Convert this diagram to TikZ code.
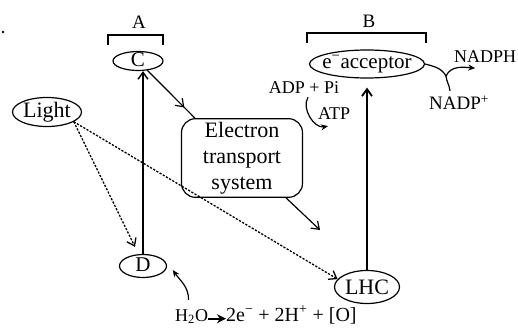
\documentclass[tikz,border=0pt]{standalone}
\usepackage{fontspec}
\setmainfont{Liberation Serif}
\usetikzlibrary{shapes.geometric,arrows.meta,decorations.markings}

\begin{document}
\begin{tikzpicture}[x=1pt,y=-1pt,
    oval/.style={draw, ellipse, line width=1.2pt, inner sep=0pt, font=\fontsize{22}{24}\selectfont},
    lbl/.style={inner sep=0pt, font=\fontsize{18}{20}\selectfont},
    barb/.style={-{Straight Barb[length=7pt,width=10pt]}},
    dots/.style={barb, line width=1.3pt, dash pattern=on 2.2pt off 1.5pt},
    small arrow/.style={-{Stealth[length=7pt,width=6pt]}, line width=1.2pt}]
    \useasboundingbox (0,0) rectangle (518,327);
    \fill (3,32) circle[radius=1.3pt];
    % photosystem brackets
    \node[lbl, font=\fontsize{19}{20}\selectfont] (labA) at (139,22) {A};
    \draw[line width=1.2pt] (108,45) -- (108,35) -- (163,35) -- (163,45);
    \node[lbl, font=\fontsize{19}{20}\selectfont] (labB) at (369,21) {B};
    \draw[line width=1.2pt] (307,43) -- (307,33) -- (426,33) -- (426,43);
    % carriers
    \node[oval, minimum width=50, minimum height=19, text height=10pt, text depth=0pt,
        font=\fontsize{21}{22}\selectfont] (C) at (138,61) {C};
    \node[oval, minimum width=47, minimum height=23, text height=11pt, text depth=0pt,
        font=\fontsize{21}{22}\selectfont] (D) at (143,266) {D};
    \node[oval, minimum width=69, minimum height=29, font=\fontsize{22}{24}\selectfont] (light) at (47,112) {Light};
    \node[oval, minimum width=65, minimum height=33] (LHC) at (367,287) {LHC};
    \node[oval, minimum width=115, minimum height=28, inner xsep=-7pt, font=\fontsize{21}{24}\selectfont]
        (acc) at (367,64) {e\textsuperscript{−}acceptor};
    \node[draw, line width=1.2pt, rounded corners=14pt, minimum width=121, minimum height=78,
        align=center, font=\fontsize{22}{26}\selectfont] (ets) at (242,158) {Electron\\transport\\system};
    \node[lbl] (adp) at (304,88) {ADP + Pi};
    \node[lbl] (atp) at (334,114) {ATP};
    \node[lbl, anchor=west] (nadph) at (454,57) {NADPH};
    \node[lbl, font=\fontsize{19}{20}\selectfont] (nadp) at (459,103) {NADP\textsuperscript{+}};
    \node[lbl, anchor=base west] (h2o) at (175,321) {H\textsubscript{2}O};
    \node[lbl, anchor=base west, font=\fontsize{20}{20}\selectfont] (prod) at (226,321)
        {2e\textsuperscript{−} + 2H\textsuperscript{+} + [O]};
    \coordinate (etsout) at (320,230);
    \coordinate (nj) at (446,76);
    % connectors
    \draw[barb, line width=1.4pt] (D.north) -- (D.north |- C.south);
    \draw[line width=1.2pt, postaction={decorate}, decoration={markings,
        mark=at position 0.78 with {\arrow{Straight Barb[length=7pt,width=10pt]}}}]
        (C) -- ([xshift=14pt]ets.north west);
    \draw[barb, line width=1.2pt] ([xshift=-17pt]ets.south east) -- (etsout);
    \draw[barb, line width=1.8pt] (LHC.north) -- ([yshift=-9pt]acc.south);
    \draw[dots] (light.-20) -- ([xshift=-8pt,yshift=7pt]D.north);
    \draw[dots] (light.-20) -- (LHC.165);
    \draw[small arrow] (acc.east) to[out=-15,in=120] (nj) to[out=65,in=175] ([xshift=-10pt,yshift=-5pt]nadph.south);
    \draw[line width=1.2pt] ([xshift=-9pt,yshift=5pt]nadp.north) to[out=95,in=-85] (nj);
    \draw[small arrow] ([xshift=4pt,yshift=-3pt]adp.south) to[out=-120,in=190] ([xshift=-6pt,yshift=-6pt]atp.south);
    \draw[small arrow] ([xshift=-3pt,yshift=9pt]h2o.north) to[out=90,in=-55] ([xshift=7pt]D.-10);
    \draw[-{Stealth[length=9pt,width=9pt]}, line width=2.2pt] (h2o.mid east) -- (prod.mid west);
\end{tikzpicture}
\end{document}
